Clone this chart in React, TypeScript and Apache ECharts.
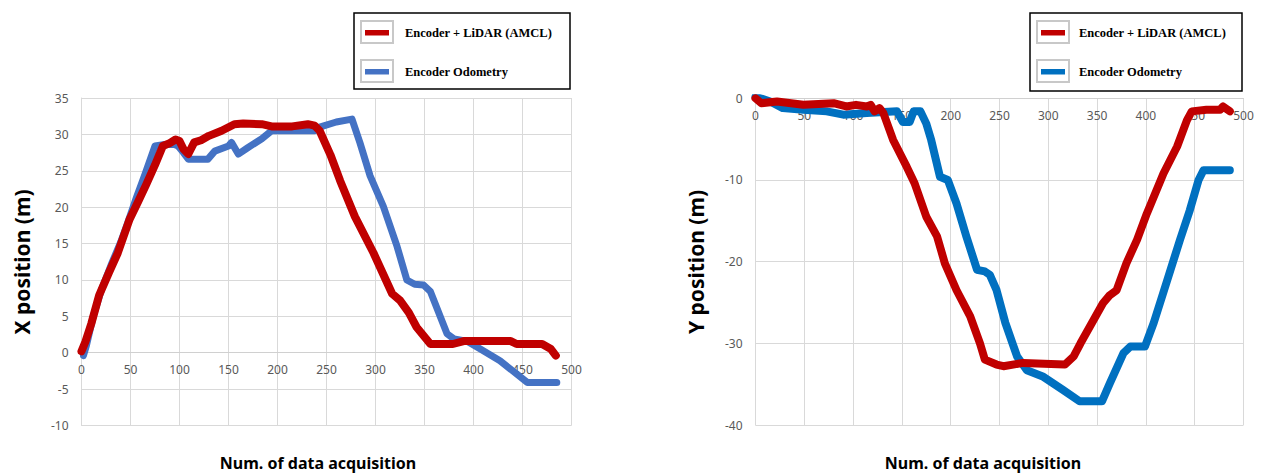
import React, { useEffect, useRef } from "react";
import * as echarts from "echarts";

const SERIES_AMCL = "Encoder + LiDAR (AMCL)";
const SERIES_ODOM = "Encoder Odometry";

// Left chart: X position
const leftAmclX = [0, 4, 10, 18, 28, 37, 49, 58, 66, 75, 83, 90, 96, 100, 104, 109, 115, 122, 130, 143, 156, 165, 184, 194, 215, 231, 238, 243, 254, 264, 279, 298, 317, 325, 334, 342, 356, 379, 390, 415, 438, 444, 470, 479, 484];
const leftAmclY = [0.2, 1.5, 4, 7.9, 11, 13.7, 18.3, 20.8, 23.1, 25.8, 28.4, 28.8, 29.3, 29.1, 28.0, 27.3, 28.9, 29.2, 29.8, 30.5, 31.4, 31.5, 31.4, 31.1, 31.1, 31.4, 31.2, 30.5, 27.2, 23.6, 18.7, 13.7, 8.1, 7.2, 5.5, 3.5, 1.2, 1.2, 1.6, 1.6, 1.6, 1.2, 1.2, 0.5, -0.4];
const leftOdomX = [2, 5, 12, 20, 30, 40, 47, 56, 65, 75, 85, 95, 98.5, 104, 109, 129, 136, 150, 153, 160, 170, 184, 194, 238, 243, 260, 276, 284, 294.5, 308, 322, 332, 340, 349, 356, 373, 380, 393, 407, 427, 455, 485];
const leftOdomY = [-0.4, 1.0, 5, 8.5, 12, 15.2, 17.8, 21.3, 24.6, 28.4, 28.6, 28.6, 28.4, 27.5, 26.6, 26.6, 27.7, 28.4, 28.9, 27.3, 28.2, 29.4, 30.5, 30.5, 31.0, 31.7, 32.1, 28.9, 24.3, 20.1, 14.6, 10.0, 9.4, 9.3, 8.4, 2.6, 1.9, 1.6, 0.5, -1.1, -4.1, -4.1];

// Right chart: Y position
const rightAmclX = [0, 6, 22, 49, 80, 93, 103, 114, 118, 122, 127, 131, 141, 155, 163, 175, 186, 194, 206, 220, 230, 235, 247, 254, 274, 317, 326, 333, 356, 363, 370, 380, 391, 401, 418, 432, 442, 447, 462, 476, 479, 486];
const rightAmclY = [0, -0.6, -0.4, -0.8, -0.6, -1.0, -0.8, -1.0, -0.8, -1.6, -1.2, -1.8, -5.1, -8.4, -10.4, -14.5, -16.9, -20.2, -23.5, -26.7, -30, -32.0, -32.6, -32.8, -32.4, -32.6, -31.6, -30, -25.1, -24.1, -23.5, -20.2, -17.3, -14.1, -9.2, -5.9, -2.7, -1.6, -1.4, -1.4, -1.0, -1.6];
const rightOdomX = [0, 15, 28, 49, 73, 90, 114, 145, 151, 158, 162, 169, 175, 180, 189, 197, 206, 216, 227, 235, 240, 247, 256, 268, 278, 295, 315, 332, 355, 363, 377, 384, 399, 408, 421, 435, 445, 454, 459, 486];
const rightOdomY = [0.2, -0.4, -1.2, -1.4, -1.6, -2.0, -1.8, -1.6, -2.9, -2.9, -1.6, -1.6, -3.1, -5.1, -9.6, -10, -12.9, -16.9, -21, -21.2, -21.6, -23.5, -27.5, -31.6, -33.3, -34.1, -35.7, -37.1, -37.1, -34.9, -31.2, -30.4, -30.4, -27.5, -22.6, -17.3, -13.7, -10, -8.8, -8.8];

const X_TITLE = "Num. of data acquisition";
const LEFT_Y_TITLE = "X position (m)";
const RIGHT_Y_TITLE = "Y position (m)";

const RED = "#C00000";
const BLUE_LEFT = "#4472C4";
const BLUE_RIGHT = "#0070C0";

const zip = (xs: number[], ys: number[]) => xs.map((x, i) => [x, ys[i]]);

function legend(left: number, top: number, width: number, height: number, blue: string, textX: number) {
  const children: any[] = [
    { type: "rect", shape: { x: left, y: top, width, height }, style: { fill: "#fff", stroke: "#000", lineWidth: 1.5 } },
  ];
  const rows = [
    { name: SERIES_AMCL, color: RED, y: top + 8 },
    { name: SERIES_ODOM, color: blue, y: top + 47 },
  ];
  rows.forEach((r) => {
    children.push({ type: "rect", shape: { x: left + 7, y: r.y, width: 32, height: 22 }, style: { fill: "#fff", stroke: "#c8c8c8", lineWidth: 2 } });
    children.push({ type: "rect", shape: { x: left + 11, y: r.y + 9, width: 24, height: 5.5 }, style: { fill: r.color } });
    children.push({
      type: "text",
      x: textX,
      y: r.y + 12,
      style: { text: r.name, fill: "#000", font: "bold 12.5px 'Liberation Serif', 'DejaVu Serif', serif", align: "left", verticalAlign: "middle" },
    });
  });
  return { type: "group", children };
}

export default function App() {
  const ref = useRef<HTMLDivElement>(null);
  useEffect(() => {
    if (!ref.current) return;
    const chart = echarts.init(ref.current, null, { renderer: "svg" });
    const labelStyle = { color: "#595959", fontSize: 12, fontFamily: "'Noto Sans', sans-serif" };
    const splitLine = { show: true, lineStyle: { color: "#d9d9d9", width: 1 } };
    const leftH = 327.5;
    const rightH = 326.7;
    chart.setOption({
      animation: false,
      backgroundColor: "#fff",
      grid: [
        { left: 81.5, top: 98, width: 490, height: leftH, containLabel: false },
        { left: 755.5, top: 98.3, width: 488, height: rightH, containLabel: false },
      ],
      xAxis: [
        {
          type: "value", gridIndex: 0, min: 0, max: 500, interval: 50,
          position: "bottom",
          offset: -leftH * (10 / 45),
          axisLine: { show: true, onZero: false, lineStyle: { color: "#d0d0d0" } },
          axisTick: { show: false },
          axisLabel: { ...labelStyle, margin: 11 },
          splitLine,
        },
        {
          type: "value", gridIndex: 1, min: 0, max: 500, interval: 50,
          position: "bottom",
          offset: -rightH,
          axisLine: { show: true, onZero: false, lineStyle: { color: "#d0d0d0" } },
          axisTick: { show: false },
          axisLabel: { ...labelStyle, margin: 11 },
          splitLine,
        },
      ],
      yAxis: [
        {
          type: "value", gridIndex: 0, min: -10, max: 35, interval: 5,
          axisLine: { show: true, onZero: false, lineStyle: { color: "#d9d9d9" } },
          axisTick: { show: false },
          axisLabel: { ...labelStyle, margin: 13 },
          splitLine,
        },
        {
          type: "value", gridIndex: 1, min: -40, max: 0, interval: 10,
          axisLine: { show: true, onZero: false, lineStyle: { color: "#d9d9d9" } },
          axisTick: { show: false },
          axisLabel: { ...labelStyle, margin: 13 },
          splitLine,
        },
      ],
      series: [
        { name: SERIES_ODOM, type: "line", xAxisIndex: 0, yAxisIndex: 0, data: zip(leftOdomX, leftOdomY), showSymbol: false, symbol: "none", lineStyle: { color: BLUE_LEFT, width: 7, join: "round", cap: "round" }, z: 2 },
        { name: SERIES_AMCL, type: "line", xAxisIndex: 0, yAxisIndex: 0, data: zip(leftAmclX, leftAmclY), showSymbol: false, symbol: "none", lineStyle: { color: RED, width: 8, join: "round", cap: "round" }, z: 3 },
        { name: SERIES_ODOM, type: "line", xAxisIndex: 1, yAxisIndex: 1, data: zip(rightOdomX, rightOdomY), showSymbol: false, symbol: "none", lineStyle: { color: BLUE_RIGHT, width: 8, join: "round", cap: "round" }, z: 2 },
        { name: SERIES_AMCL, type: "line", xAxisIndex: 1, yAxisIndex: 1, data: zip(rightAmclX, rightAmclY), showSymbol: false, symbol: "none", lineStyle: { color: RED, width: 8, join: "round", cap: "round" }, z: 3 },
      ],
      graphic: [
        legend(354, 13, 216, 76, BLUE_LEFT, 405),
        legend(1030, 13, 212, 78, BLUE_RIGHT, 1079),
        { type: "text", x: 22, y: 262, rotation: Math.PI / 2, style: { text: LEFT_Y_TITLE, fill: "#000", font: "bold 21px 'Noto Sans', sans-serif", align: "center", verticalAlign: "middle" } },
        { type: "text", x: 696, y: 262, rotation: Math.PI / 2, style: { text: RIGHT_Y_TITLE, fill: "#000", font: "bold 21px 'Noto Sans', sans-serif", align: "center", verticalAlign: "middle" } },
        { type: "text", x: 318, y: 463, style: { text: X_TITLE, fill: "#000", font: "bold 16px 'Noto Sans', sans-serif", align: "center", verticalAlign: "middle" } },
        { type: "text", x: 983, y: 463, style: { text: X_TITLE, fill: "#000", font: "bold 16px 'Noto Sans', sans-serif", align: "center", verticalAlign: "middle" } },
      ],
    });
    return () => chart.dispose();
  }, []);
  return <div ref={ref} style={{ position: "fixed", left: 0, top: 0, width: 1265, height: 474 }} />;
}
